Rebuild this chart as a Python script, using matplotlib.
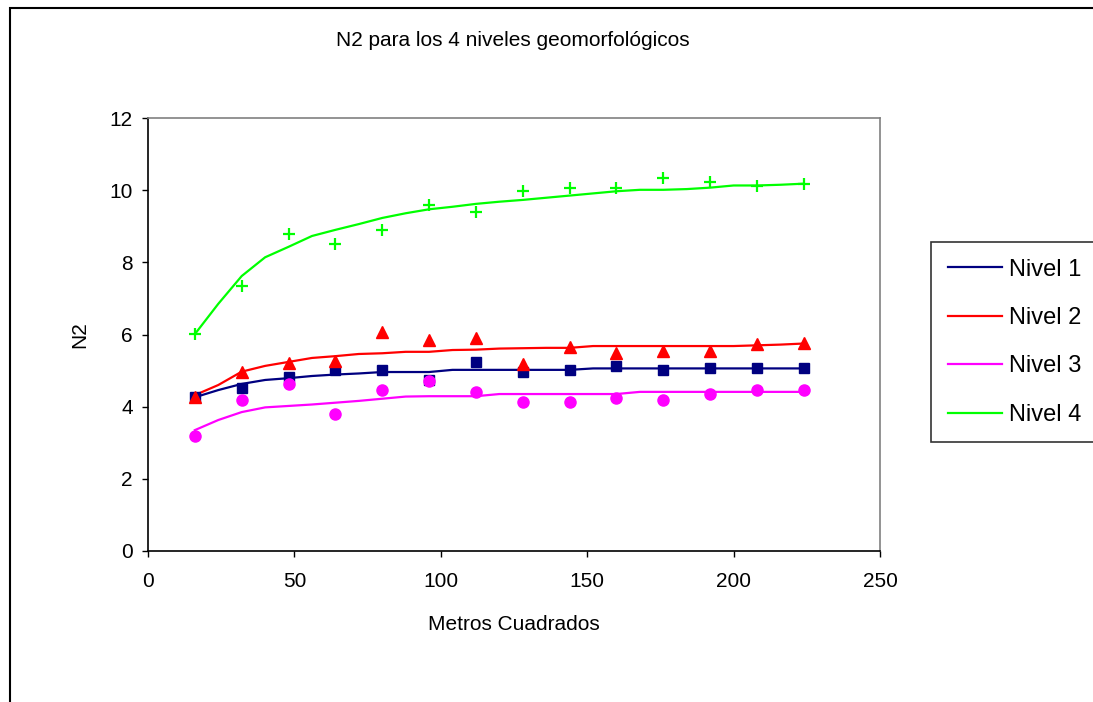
import matplotlib
matplotlib.use("Agg")
import matplotlib.pyplot as plt
from matplotlib.patches import Rectangle

plt.rcParams['font.family'] = ['Liberation Sans', 'DejaVu Sans']

# Observed points (every 16 m2)
x_pts = [16, 32, 48, 64, 80, 96, 112, 128, 144, 160, 176, 192, 208, 224]
n1_pts = [4.26, 4.52, 4.81, 5.02, 5.02, 4.74, 5.24, 4.96, 5.02, 5.14, 5.02, 5.06, 5.06, 5.06]
n2_pts = [4.26, 4.97, 5.20, 5.27, 6.08, 5.85, 5.91, 5.18, 5.64, 5.48, 5.53, 5.53, 5.74, 5.76]
n3_pts = [3.19, 4.19, 4.63, 3.80, 4.46, 4.70, 4.41, 4.13, 4.13, 4.24, 4.19, 4.35, 4.46, 4.46]
n4_pts = [6.01, 7.34, 8.79, 8.50, 8.90, 9.58, 9.39, 9.99, 10.05, 10.07, 10.33, 10.22, 10.12, 10.17]

# Curves (every 8 m2)
x_line = [16, 24, 32, 40, 48, 56, 64, 72, 80, 88, 96, 104, 112, 120,
          128, 136, 144, 152, 160, 168, 176, 184, 192, 200, 208, 216, 224]
n1_line = [4.26, 4.46, 4.63, 4.74, 4.79, 4.85, 4.89, 4.92, 4.96, 4.96, 4.96, 5.02, 5.02, 5.02,
           5.02, 5.02, 5.02, 5.06, 5.06, 5.06, 5.06, 5.06, 5.06, 5.06, 5.06, 5.06, 5.06]
n2_line = [4.32, 4.60, 4.97, 5.13, 5.24, 5.35, 5.40, 5.46, 5.48, 5.52, 5.52, 5.57, 5.58, 5.61,
           5.62, 5.63, 5.63, 5.68, 5.68, 5.68, 5.68, 5.68, 5.68, 5.68, 5.70, 5.72, 5.75]
n3_line = [3.35, 3.63, 3.85, 3.98, 4.02, 4.06, 4.11, 4.16, 4.22, 4.28, 4.29, 4.29, 4.29, 4.35,
           4.35, 4.35, 4.35, 4.35, 4.35, 4.41, 4.41, 4.41, 4.41, 4.41, 4.41, 4.41, 4.41]
n4_line = [6.01, 6.85, 7.62, 8.14, 8.43, 8.73, 8.90, 9.06, 9.23, 9.36, 9.47, 9.54, 9.62, 9.68,
           9.73, 9.79, 9.85, 9.91, 9.97, 10.01, 10.01, 10.03, 10.07, 10.13, 10.13, 10.15, 10.18]

labels = ["Nivel 1", "Nivel 2", "Nivel 3", "Nivel 4"]
colors = ["#000080", "#FF0000", "#FF00FF", "#00FF00"]

fig = plt.figure(figsize=(10.93, 7.02), dpi=100)
ax = fig.add_axes([148/1093, 1-551/702, (880-148)/1093, (551-118)/702])

# outer chart border
fig.patches.append(Rectangle((10/1093, -0.1), 1.2, 1-8/702+0.1, transform=fig.transFigure,
                             fill=False, edgecolor="#000000", linewidth=1.5, clip_on=False))

lines_y = [n1_line, n2_line, n3_line, n4_line]
pts_y = [n1_pts, n2_pts, n3_pts, n4_pts]
markers = [("s", 7, 1), ("^", 8, 1), ("o", 8, 1), ("+", 9, 1.6)]

handles = []
for ly, py, c, lab, (m, ms, mew) in zip(lines_y, pts_y, colors, labels, markers):
    h, = ax.plot(x_line, ly, color=c, linewidth=1.6, label=lab, zorder=2)
    handles.append(h)
    ax.plot(x_pts, py, linestyle="none", marker=m, markersize=ms, color=c,
            markeredgewidth=mew, zorder=3)

ax.set_xlim(0, 250)
ax.set_ylim(0, 12)
ax.set_xticks([0, 50, 100, 150, 200, 250])
ax.set_yticks([0, 2, 4, 6, 8, 10, 12])
ax.tick_params(direction="out", length=4, width=1, labelsize=15, colors="#000000")
ax.tick_params(axis="y", pad=7)
ax.tick_params(axis="x", pad=11)
ax.spines["top"].set_color("#808080")
ax.spines["right"].set_color("#808080")
ax.spines["left"].set_color("#000000")
ax.spines["bottom"].set_color("#000000")
for s in ax.spines.values():
    s.set_linewidth(1.2)

ax.set_xlabel("Metros Cuadrados", fontsize=15)
ax.xaxis.label.set_va("center")
ax.xaxis.set_label_coords(0.5, (551-625)/433)
ax.set_ylabel("N2", fontsize=15)
ax.yaxis.label.set_va("center")
ax.yaxis.set_label_coords((80-148)/732, 0.5)

fig.text(513/1093, 1-40/702, "N2 para los 4 niveles geomorfológicos", ha="center",
         va="center", fontsize=15)

leg = fig.legend(handles=handles, labels=labels, loc="upper left",
                 bbox_to_anchor=(931/1093, 1-242/702), fontsize=17,
                 frameon=True, fancybox=False, edgecolor="#000000",
                 handlelength=2.3, handletextpad=0.3, labelspacing=1.12,
                 borderpad=0.7, borderaxespad=0)
leg.get_frame().set_linewidth(1.2)

fig.savefig("out.png", dpi=100)
